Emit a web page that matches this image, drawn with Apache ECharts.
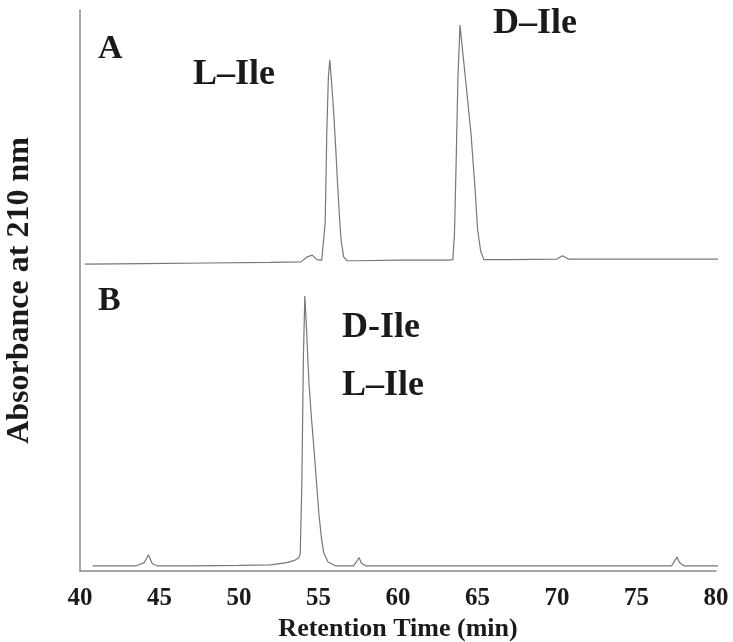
<!DOCTYPE html>
<html>
<head>
<meta charset="utf-8">
<script src="https://cdn.jsdelivr.net/npm/echarts@6/dist/echarts.min.js"></script>
<style>
  html, body { margin: 0; padding: 0; background: #fff; }
  #chart { width: 733px; height: 642px; }
</style>
</head>
<body>
<div id="chart"></div>
<script>
// Retention time (min) and absorbance (arbitrary units, trace A offset above trace B)
const timeA = [40.3, 44.0, 48.0, 52.0, 53.9, 54.3, 54.6, 54.9, 55.2, 55.3, 55.42, 55.52, 55.62, 55.71, 55.8, 55.95, 56.08, 56.2, 56.3, 56.42, 56.58, 56.8, 57.5, 60.0, 63.2, 63.45, 63.55, 63.65, 63.77, 63.9, 63.98, 64.2, 64.59, 64.85, 65.0, 65.2, 65.4, 67.0, 70.0, 70.35, 70.7, 74.0, 77.0, 80.6];
const absA  = [54.7, 54.8, 54.9, 55.0, 55.1, 56.0, 56.3, 55.5, 55.4, 55.5, 62.0, 78.0, 88.0, 91.1, 88.0, 82.0, 75.5, 69.0, 64.0, 59.0, 56.0, 55.3, 55.3, 55.4, 55.4, 55.5, 60.0, 72.0, 88.0, 97.3, 95.0, 89.0, 78.0, 68.0, 61.0, 57.0, 55.5, 55.5, 55.6, 56.2, 55.6, 55.6, 55.6, 55.6];

const timeB = [40.8, 43.5, 44.05, 44.3, 44.55, 44.9, 47.0, 50.0, 52.0, 53.0, 53.5, 53.75, 53.85, 53.95, 54.05, 54.14, 54.25, 54.39, 54.55, 54.71, 54.87, 55.02, 55.18, 55.33, 55.6, 56.1, 57.2, 57.4, 57.55, 57.7, 58.0, 62.0, 67.0, 72.0, 77.2, 77.4, 77.55, 77.7, 78.0, 80.3];
const absB  = [0.9, 0.9, 1.5, 2.9, 1.3, 0.9, 0.9, 1.0, 1.1, 1.5, 1.9, 2.3, 3.0, 15.0, 38.0, 49.0, 43.0, 34.0, 27.5, 22.0, 16.0, 10.3, 6.0, 3.2, 1.6, 0.9, 0.9, 1.7, 2.4, 1.4, 0.9, 0.9, 0.9, 0.9, 0.9, 1.8, 2.5, 1.5, 0.9, 0.9];

const xTicks = [40, 45, 50, 55, 60, 65, 70, 75, 80];

const panelLabels = ['A', 'B'];
const peakLabelsA = ['L\u2013Ile', 'D\u2013Ile'];
const peakLabelsB = ['D-Ile', 'L\u2013Ile'];

const zip = (xs, ys) => xs.map((x, i) => [x, ys[i]]);
const serif = '"Liberation Serif", "DejaVu Serif", serif';

const chart = echarts.init(document.getElementById('chart'));
const txt = (s, left, top, size) => ({
  type: 'text', left, top,
  style: { text: s, font: 'bold ' + size + 'px ' + serif, fill: '#1a1a1a' }
});

chart.setOption({
  animation: false,
  grid: { left: 80, right: 17, top: 10, bottom: 71, outerBoundsMode: 'none', containLabel: false },
  xAxis: {
    type: 'value', min: xTicks[0], max: xTicks[xTicks.length - 1], interval: 5,
    name: 'Retention Time (min)', nameLocation: 'middle', nameGap: 45,
    nameTextStyle: { fontFamily: serif, fontWeight: 'bold', fontSize: 26, color: '#1a1a1a' },
    axisLine: { lineStyle: { color: '#8a8a8a', width: 1.5 } },
    axisTick: { show: false },
    splitLine: { show: false },
    axisLabel: { margin: 15, fontFamily: serif, fontWeight: 'bold', fontSize: 25, color: '#1a1a1a' }
  },
  yAxis: {
    type: 'value', min: 0, max: 100,
    name: 'Absorbance at 210 nm', nameLocation: 'middle', nameGap: 44, nameRotate: 90,
    nameTextStyle: { fontFamily: serif, fontWeight: 'bold', fontSize: 32, color: '#1a1a1a' },
    axisLine: { show: true, lineStyle: { color: '#8a8a8a', width: 1.5 } },
    axisTick: { show: false },
    axisLabel: { show: false },
    splitLine: { show: false }
  },
  series: [
    { type: 'line', data: zip(timeA, absA), showSymbol: false, clip: false,
      lineStyle: { color: '#777777', width: 1.2 } },
    { type: 'line', data: zip(timeB, absB), showSymbol: false, clip: false,
      lineStyle: { color: '#777777', width: 1.2 } }
  ],
  graphic: [
    txt(panelLabels[0], 98, 32, 34),
    txt(peakLabelsA[0], 193, 57, 36),
    txt(peakLabelsA[1], 493, 6, 36),
    txt(panelLabels[1], 98, 284, 34),
    txt(peakLabelsB[0], 342, 310, 36),
    txt(peakLabelsB[1], 342, 368, 36)
  ]
});
</script>
</body>
</html>
